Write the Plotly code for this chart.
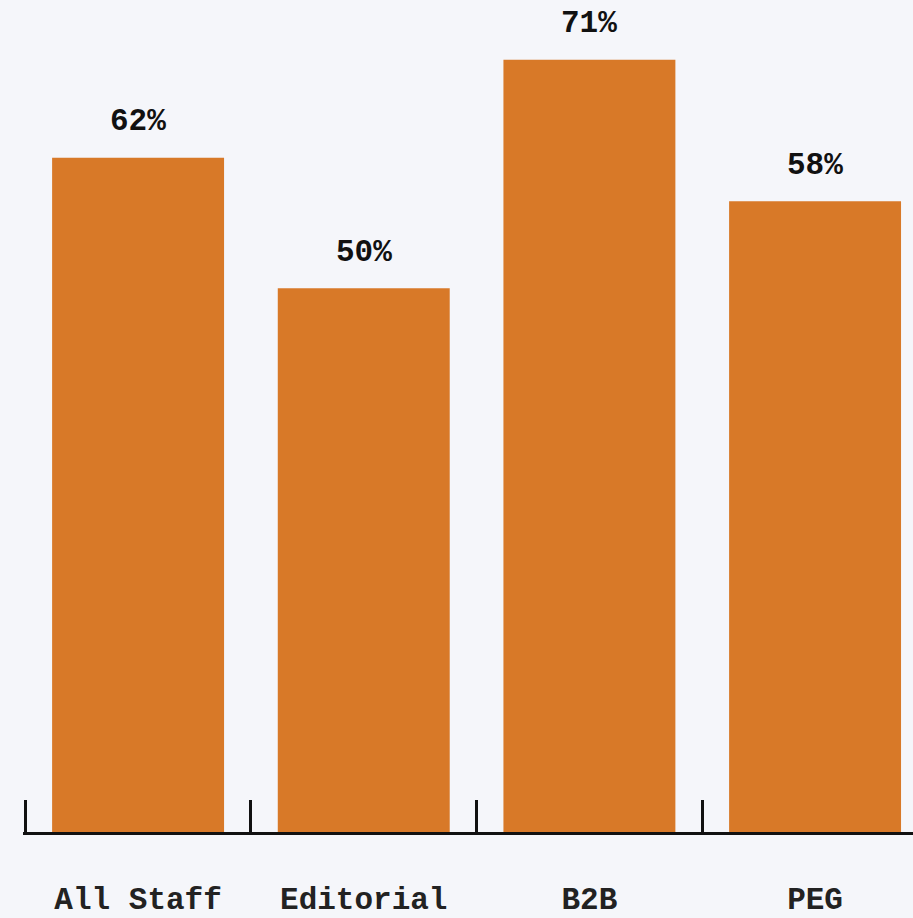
import plotly.graph_objects as go

categories = ["All Staff", "Editorial", "B2B", "PEG"]
values = [62, 50, 71, 58]
value_labels = ["62%", "50%", "71%", "58%"]

BG = "#f5f6fa"
BAR = "#d87928"

fig = go.Figure()
fig.add_trace(go.Bar(
    x=categories, y=values,
    marker=dict(color=BAR, line=dict(width=0)),
    hoverinfo="skip",
))

for c, v, t in zip(categories, values, value_labels):
    fig.add_annotation(
        x=c, y=v, text=t, showarrow=False,
        yanchor="middle", yshift=36,
        font=dict(family="Liberation Mono, DejaVu Sans Mono, monospace", size=31,
                  color="#111111", weight="bold"),
    )

fig.update_layout(
    width=913, height=918,
    paper_bgcolor=BG, plot_bgcolor=BG,
    margin=dict(l=23, r=0, t=0, b=86),
    bargap=0.238,
    showlegend=False,
    xaxis=dict(
        type="category",
        range=[-0.51, 3.434],
        tickson="boundaries",
        ticks="inside", ticklen=32, tickwidth=2.5, tickcolor="#111111",
        showline=True, linecolor="#111111", linewidth=2.5,
        showgrid=False, zeroline=False,
        automargin=False,
        ticklabelstandoff=37,
        tickfont=dict(family="Liberation Mono, Courier New, monospace", size=31,
                      color="#222222", weight="bold"),
    ),
    yaxis=dict(
        range=[0, 76.5],
        visible=False, showgrid=False, zeroline=False,
        automargin=False,
    ),
)

fig.write_html(
    "out.html",
    config={"displayModeBar": False},
    post_script="document.body.style.margin='0';document.body.style.padding='0';"
                "document.documentElement.style.background='" + BG + "';"
                "document.body.style.overflow='hidden';",
)
